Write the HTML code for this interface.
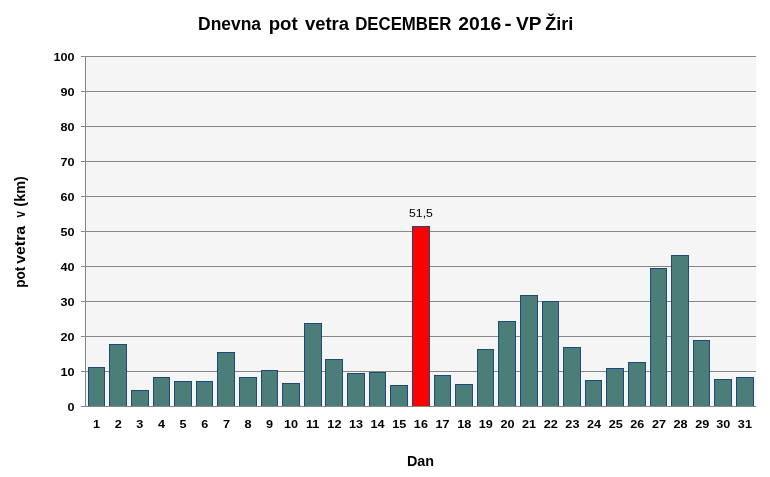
<!DOCTYPE html>
<html lang="sl"><head><meta charset="utf-8"><title>Dnevna pot vetra DECEMBER 2016 - VP Žiri</title>
<style>
html,body{margin:0;padding:0;background:#fff;overflow:hidden}
svg{display:block}
text{font-family:"Liberation Sans",sans-serif;fill:#000}
.b{font-weight:bold}
</style></head><body>
<svg width="770" height="477" viewBox="0 0 770 477">
<rect x="0" y="0" width="770" height="477" fill="#fff"/>
<rect x="85" y="56" width="671.3" height="351" fill="#f5f5f5"/>
<g shape-rendering="crispEdges" fill="#868686">
<rect x="81" y="56" width="675" height="1"/>
<rect x="81" y="91" width="675" height="1"/>
<rect x="81" y="126" width="675" height="1"/>
<rect x="81" y="161" width="675" height="1"/>
<rect x="81" y="196" width="675" height="1"/>
<rect x="81" y="231" width="675" height="1"/>
<rect x="81" y="266" width="675" height="1"/>
<rect x="81" y="301" width="675" height="1"/>
<rect x="81" y="336" width="675" height="1"/>
<rect x="81" y="371" width="675" height="1"/>
<rect x="81" y="406" width="675" height="1"/>
<rect x="85" y="56" width="1" height="351"/>
</g>
<g shape-rendering="crispEdges">
<rect x="88" y="367" width="17" height="39" fill="#1f497d"/><rect x="89" y="368" width="15" height="38" fill="#4b7e78"/>
<rect x="109" y="344" width="18" height="62" fill="#1f497d"/><rect x="110" y="345" width="16" height="61" fill="#4b7e78"/>
<rect x="131" y="390" width="18" height="16" fill="#1f497d"/><rect x="132" y="391" width="16" height="15" fill="#4b7e78"/>
<rect x="153" y="377" width="17" height="29" fill="#1f497d"/><rect x="154" y="378" width="15" height="28" fill="#4b7e78"/>
<rect x="174" y="381" width="18" height="25" fill="#1f497d"/><rect x="175" y="382" width="16" height="24" fill="#4b7e78"/>
<rect x="196" y="381" width="17" height="25" fill="#1f497d"/><rect x="197" y="382" width="15" height="24" fill="#4b7e78"/>
<rect x="217" y="352" width="18" height="54" fill="#1f497d"/><rect x="218" y="353" width="16" height="53" fill="#4b7e78"/>
<rect x="239" y="377" width="18" height="29" fill="#1f497d"/><rect x="240" y="378" width="16" height="28" fill="#4b7e78"/>
<rect x="261" y="370" width="17" height="36" fill="#1f497d"/><rect x="262" y="371" width="15" height="35" fill="#4b7e78"/>
<rect x="282" y="383" width="18" height="23" fill="#1f497d"/><rect x="283" y="384" width="16" height="22" fill="#4b7e78"/>
<rect x="304" y="323" width="18" height="83" fill="#1f497d"/><rect x="305" y="324" width="16" height="82" fill="#4b7e78"/>
<rect x="325" y="359" width="18" height="47" fill="#1f497d"/><rect x="326" y="360" width="16" height="46" fill="#4b7e78"/>
<rect x="347" y="373" width="18" height="33" fill="#1f497d"/><rect x="348" y="374" width="16" height="32" fill="#4b7e78"/>
<rect x="369" y="372" width="17" height="34" fill="#1f497d"/><rect x="370" y="373" width="15" height="33" fill="#4b7e78"/>
<rect x="390" y="385" width="18" height="21" fill="#1f497d"/><rect x="391" y="386" width="16" height="20" fill="#4b7e78"/>
<rect x="412" y="226" width="18" height="180" fill="#1f497d"/><rect x="413" y="227" width="16" height="179" fill="#ff0000"/>
<rect x="434" y="375" width="17" height="31" fill="#1f497d"/><rect x="435" y="376" width="15" height="30" fill="#4b7e78"/>
<rect x="455" y="384" width="18" height="22" fill="#1f497d"/><rect x="456" y="385" width="16" height="21" fill="#4b7e78"/>
<rect x="477" y="349" width="17" height="57" fill="#1f497d"/><rect x="478" y="350" width="15" height="56" fill="#4b7e78"/>
<rect x="498" y="321" width="18" height="85" fill="#1f497d"/><rect x="499" y="322" width="16" height="84" fill="#4b7e78"/>
<rect x="520" y="295" width="18" height="111" fill="#1f497d"/><rect x="521" y="296" width="16" height="110" fill="#4b7e78"/>
<rect x="542" y="301" width="17" height="105" fill="#1f497d"/><rect x="543" y="302" width="15" height="104" fill="#4b7e78"/>
<rect x="563" y="347" width="18" height="59" fill="#1f497d"/><rect x="564" y="348" width="16" height="58" fill="#4b7e78"/>
<rect x="585" y="380" width="17" height="26" fill="#1f497d"/><rect x="586" y="381" width="15" height="25" fill="#4b7e78"/>
<rect x="606" y="368" width="18" height="38" fill="#1f497d"/><rect x="607" y="369" width="16" height="37" fill="#4b7e78"/>
<rect x="628" y="362" width="18" height="44" fill="#1f497d"/><rect x="629" y="363" width="16" height="43" fill="#4b7e78"/>
<rect x="650" y="268" width="17" height="138" fill="#1f497d"/><rect x="651" y="269" width="15" height="137" fill="#4b7e78"/>
<rect x="671" y="255" width="18" height="151" fill="#1f497d"/><rect x="672" y="256" width="16" height="150" fill="#4b7e78"/>
<rect x="693" y="340" width="17" height="66" fill="#1f497d"/><rect x="694" y="341" width="15" height="65" fill="#4b7e78"/>
<rect x="714" y="379" width="18" height="27" fill="#1f497d"/><rect x="715" y="380" width="16" height="26" fill="#4b7e78"/>
<rect x="736" y="377" width="18" height="29" fill="#1f497d"/><rect x="737" y="378" width="16" height="28" fill="#4b7e78"/>
<rect x="81" y="406" width="675" height="1" fill="#868686"/>
</g>
<text class="b" y="30.1" font-size="18.8"><tspan x="198.04" textLength="63.02" lengthAdjust="spacingAndGlyphs">Dnevna</tspan> <tspan x="268.66" textLength="29.05" lengthAdjust="spacingAndGlyphs">pot</tspan> <tspan x="304.88" textLength="44.11" lengthAdjust="spacingAndGlyphs">vetra</tspan> <tspan x="355.18" textLength="96.14" lengthAdjust="spacingAndGlyphs">DECEMBER</tspan> <tspan x="458.16" textLength="43.02" lengthAdjust="spacingAndGlyphs">2016</tspan> <tspan x="504.59" textLength="7.14" lengthAdjust="spacingAndGlyphs">-</tspan> <tspan x="516.07" textLength="25.19" lengthAdjust="spacingAndGlyphs">VP</tspan> <tspan x="545.22" textLength="28.05" lengthAdjust="spacingAndGlyphs">Žiri</tspan> </text>
<text class="b" transform="translate(25.2 286.8) rotate(-90)" y="0" font-size="14"><tspan x="-0.84" textLength="20.98" lengthAdjust="spacingAndGlyphs">pot</tspan> <tspan x="23.00" textLength="37.92" lengthAdjust="spacingAndGlyphs">vetra</tspan> <tspan x="69.30" textLength="6.34" lengthAdjust="spacingAndGlyphs">v</tspan> <tspan x="80.16" textLength="30.35" lengthAdjust="spacingAndGlyphs">(km)</tspan> </text>
<text class="b" x="406.90" y="465.9" font-size="14" textLength="27.15" lengthAdjust="spacingAndGlyphs">Dan</text>
<text x="409.06" y="217" font-size="11.3" textLength="23.85" lengthAdjust="spacingAndGlyphs">51,5</text>
<g class="b" font-size="11.3" text-anchor="end">
<text transform="translate(74.5 61) scale(1.12 1)">100</text>
<text transform="translate(74.5 96) scale(1.12 1)">90</text>
<text transform="translate(74.5 131) scale(1.12 1)">80</text>
<text transform="translate(74.5 166) scale(1.12 1)">70</text>
<text transform="translate(74.5 201) scale(1.12 1)">60</text>
<text transform="translate(74.5 236) scale(1.12 1)">50</text>
<text transform="translate(74.5 271) scale(1.12 1)">40</text>
<text transform="translate(74.5 306) scale(1.12 1)">30</text>
<text transform="translate(74.5 341) scale(1.12 1)">20</text>
<text transform="translate(74.5 376) scale(1.12 1)">10</text>
<text transform="translate(74.5 411) scale(1.12 1)">0</text>
</g>
<g class="b" font-size="11.3" text-anchor="middle">
<text transform="translate(96.5 428) scale(1.12 1)">1</text>
<text transform="translate(118.2 428) scale(1.12 1)">2</text>
<text transform="translate(139.8 428) scale(1.12 1)">3</text>
<text transform="translate(161.4 428) scale(1.12 1)">4</text>
<text transform="translate(183.1 428) scale(1.12 1)">5</text>
<text transform="translate(204.7 428) scale(1.12 1)">6</text>
<text transform="translate(226.4 428) scale(1.12 1)">7</text>
<text transform="translate(248.0 428) scale(1.12 1)">8</text>
<text transform="translate(269.4 428) scale(1.12 1)">9</text>
<text transform="translate(291.1 428) scale(1.12 1)">10</text>
<text transform="translate(312.7 428) scale(1.12 1)">11</text>
<text transform="translate(334.4 428) scale(1.12 1)">12</text>
<text transform="translate(356.0 428) scale(1.12 1)">13</text>
<text transform="translate(377.6 428) scale(1.12 1)">14</text>
<text transform="translate(399.3 428) scale(1.12 1)">15</text>
<text transform="translate(420.9 428) scale(1.12 1)">16</text>
<text transform="translate(442.6 428) scale(1.12 1)">17</text>
<text transform="translate(464.2 428) scale(1.12 1)">18</text>
<text transform="translate(485.8 428) scale(1.12 1)">19</text>
<text transform="translate(507.5 428) scale(1.12 1)">20</text>
<text transform="translate(529.1 428) scale(1.12 1)">21</text>
<text transform="translate(550.8 428) scale(1.12 1)">22</text>
<text transform="translate(572.4 428) scale(1.12 1)">23</text>
<text transform="translate(594.0 428) scale(1.12 1)">24</text>
<text transform="translate(615.7 428) scale(1.12 1)">25</text>
<text transform="translate(637.3 428) scale(1.12 1)">26</text>
<text transform="translate(659.0 428) scale(1.12 1)">27</text>
<text transform="translate(680.6 428) scale(1.12 1)">28</text>
<text transform="translate(702.2 428) scale(1.12 1)">29</text>
<text transform="translate(723.3 428) scale(1.12 1)">30</text>
<text transform="translate(744.9 428) scale(1.12 1)">31</text>
</g>
</svg>
</body></html>
